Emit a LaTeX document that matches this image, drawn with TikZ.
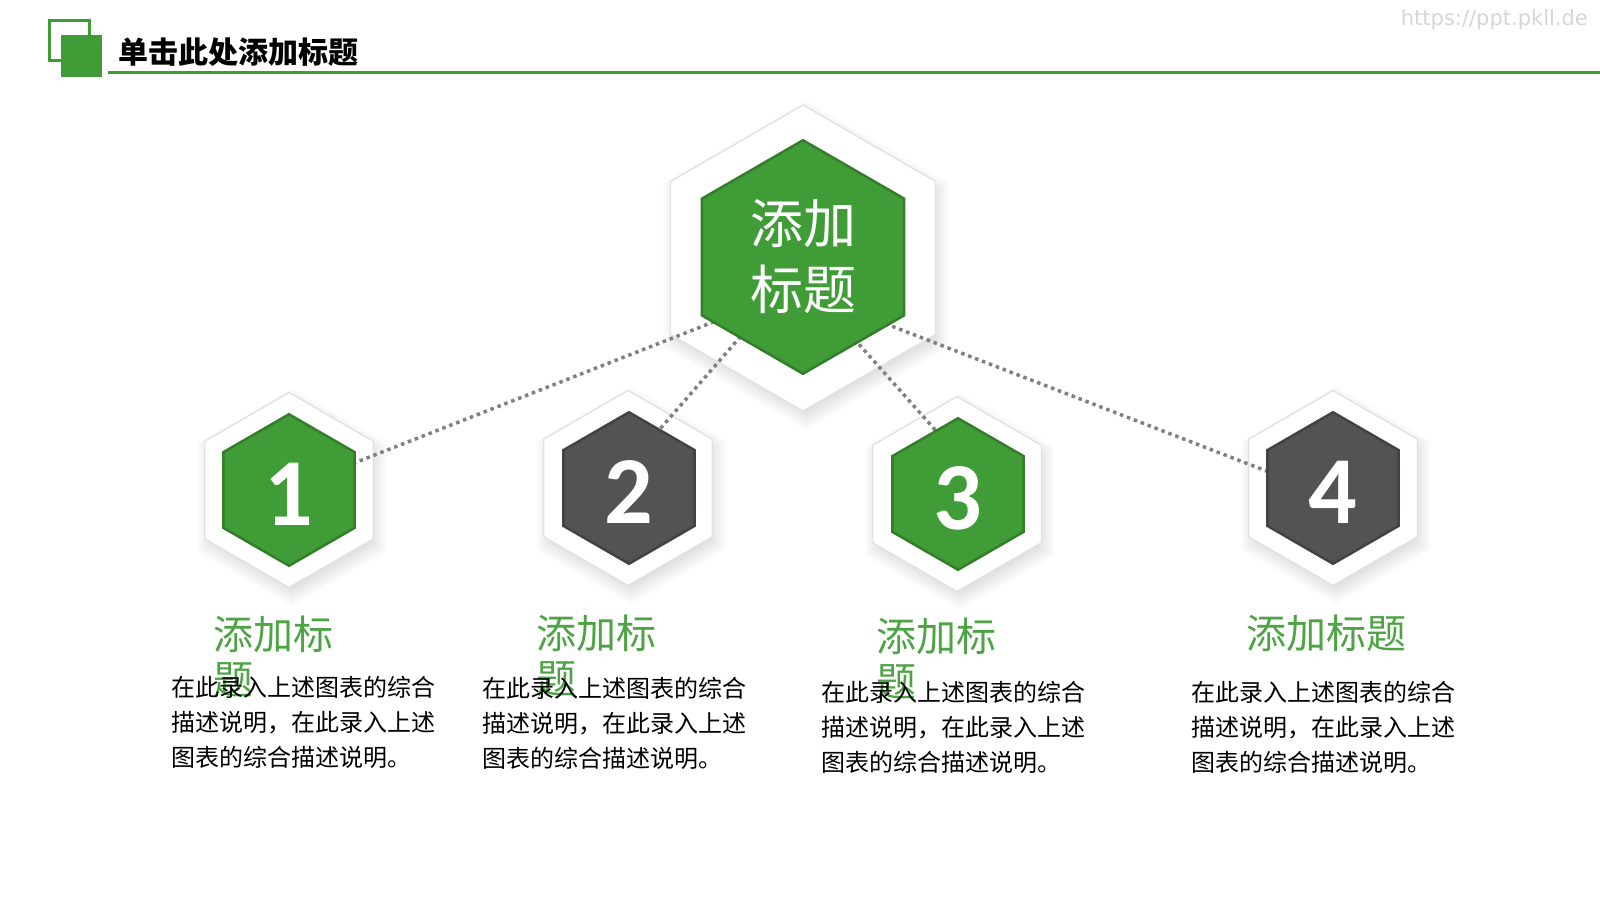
\documentclass[tikz,border=0pt]{standalone}
\usepackage{fontspec}
\setmainfont{Noto Sans CJK SC}
\newfontfamily\numfont{Carlito}
\newfontfamily\wmfont{DejaVu Sans}
\usetikzlibrary{shapes.geometric}
\definecolor{hexgreen}{RGB}{64,156,54}
\definecolor{hexgray}{RGB}{84,82,84}
\definecolor{labgreen}{RGB}{78,164,68}
\definecolor{dotgray}{RGB}{128,128,128}
\definecolor{rimgray}{RGB}{226,226,226}
\definecolor{wmgray}{RGB}{214,214,214}
% soft drop shadow of an outer hexagon: centre x, centre y, radius
\newcommand{\hexshadow}[3]{%
  \foreach \i in {0,...,9}{
    \pgfmathsetmacro{\rr}{#3-6+2*\i}
    \fill[black, opacity=0.013, shift={(#1+3,#2+7)}]
      (90:\rr) -- (150:\rr) -- (210:\rr) -- (270:\rr) -- (330:\rr) -- (30:\rr) -- cycle;
  }}
\tikzset{
  hexshape/.style={regular polygon, regular polygon sides=6, shape border rotate=30,
    inner sep=0pt, outer sep=0pt},
  outerhex/.style={hexshape, minimum size=2*#1, fill=white, draw=rimgray, line width=1.4pt},
  innerhex/.style 2 args={hexshape, minimum size=2*#1-2.5, text=white, fill=#2,
    draw=#2!80!black, line width=2.5pt},
  numtext/.style={font=\numfont\bfseries\fontsize{96}{96}\selectfont,
    text height=71pt, text depth=0pt},
  connector/.style={draw=dotgray, line width=3.5pt, dash pattern=on 3.5pt off 3.9pt},
  labeltext/.style={anchor=north west, inner sep=0pt, align=left, text=labgreen,
    font=\fontsize{40}{45}\selectfont},
  bodytext/.style={anchor=north west, inner sep=0pt, align=left, text=black,
    font=\fontsize{24}{35}\selectfont},
}
\begin{document}
\begin{tikzpicture}[x=1pt, y=-1pt]
  % canvas
  \fill[white] (0,0) rectangle (1600,900);
  \useasboundingbox (0,0) rectangle (1600,900);

  % header
  \draw[hexgreen, line width=3pt] (49.5,20.5) rectangle (89.5,60.5);
  \fill[hexgreen] (61,35) rectangle (102,77);
  \draw[hexgreen, line width=3pt] (108,72) -- (1600,72);
  \node[anchor=west, inner sep=0pt, font=\bfseries\fontsize{30}{30}\selectfont] (title) at (118,52) {单击此处添加标题};
  \node[anchor=east, inner sep=0pt, text=wmgray, font=\wmfont\fontsize{21}{21}\selectfont] (wm) at (1588,20) {https://ppt.pkll.de};

  % shadows and white outer hexagons
  \hexshadow{803}{258}{153}
  \hexshadow{289}{490}{97.5}
  \hexshadow{628}{488}{97.5}
  \hexshadow{957}{494}{97.5}
  \hexshadow{1333}{488}{97.5}
  \node[outerhex=153] (oc) at (803,258) {};
  \node[outerhex=97.5] (o1) at (289,490) {};
  \node[outerhex=97.5] (o2) at (628,488) {};
  \node[outerhex=97.5] (o3) at (957,494) {};
  \node[outerhex=97.5] (o4) at (1333,488) {};

  % dotted connectors (their ends lie under the coloured hexagons)
  \coordinate (a1) at (339,469);   \coordinate (z1) at (721,319);
  \coordinate (a2) at (646,445);   \coordinate (z2) at (748,328);
  \coordinate (a3) at (945,441);   \coordinate (z3) at (849,333);
  \coordinate (a4) at (1282,477);  \coordinate (z4) at (881,322);
  \draw[connector] (a1) -- (z1);
  \draw[connector] (a2) -- (z2);
  \draw[connector] (a3) -- (z3);
  \draw[connector] (a4) -- (z4);

  % coloured hexagons
  \node[innerhex={118}{hexgreen}, font=\fontsize{53}{66}\selectfont, align=center] (c) at (803,257) {添加\\标题};
  \node[innerhex={77}{hexgreen}, numtext] (h1) at (289,490) {1};
  \node[innerhex={77}{hexgray}, numtext] (h2) at (629,488) {2};
  \node[innerhex={77}{hexgreen}, numtext] (h3) at (958,494) {3};
  \node[innerhex={77}{hexgray}, numtext] (h4) at (1333,488) {4};

  % labels
  \node[labeltext] (l1) at (213.5,616) {添加标\\题};
  \node[labeltext] (l2) at (536.5,615) {添加标\\题};
  \node[labeltext] (l3) at (876.5,618) {添加标\\题};
  \node[labeltext] (l4) at (1246.5,615) {添加标题};

  % body texts
  \node[bodytext] (b1) at (171,676) {在此录入上述图表的综合\\描述说明，在此录入上述\\图表的综合描述说明。};
  \node[bodytext] (b2) at (482,677) {在此录入上述图表的综合\\描述说明，在此录入上述\\图表的综合描述说明。};
  \node[bodytext] (b3) at (821,681) {在此录入上述图表的综合\\描述说明，在此录入上述\\图表的综合描述说明。};
  \node[bodytext] (b4) at (1191,681) {在此录入上述图表的综合\\描述说明，在此录入上述\\图表的综合描述说明。};
\end{tikzpicture}
\end{document}
